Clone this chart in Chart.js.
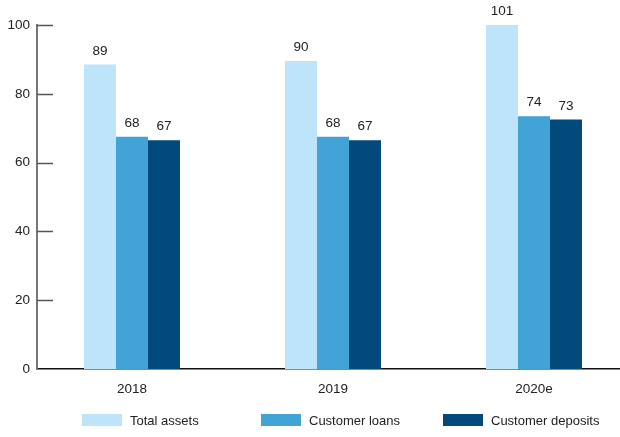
<!DOCTYPE html>
<html>
<head>
<meta charset="utf-8">
<script src="https://cdn.jsdelivr.net/npm/chart.js@4.4.1/dist/chart.umd.min.js"></script>
<style>
  html, body { margin: 0; padding: 0; background: #fff; overflow: hidden; }
  #wrap { position: relative; width: 620px; height: 437px; }
  #legend { position: absolute; left: 0; top: 412px; width: 620px; height: 16px;
            font-family: "Liberation Sans", Arial, sans-serif; font-size: 13px; color: #222; }
  .item { position: absolute; top: 0; height: 16px; display: flex; align-items: center; white-space: nowrap; }
  .box { width: 40px; height: 12px; margin-right: 8px; }
</style>
</head>
<body>
<div id="wrap">
  <canvas id="c" width="620" height="437"></canvas>
  <div id="legend"></div>
</div>
<script>
const categories = ["2018", "2019", "2020e"];
const seriesNames = ["Total assets", "Customer loans", "Customer deposits"];
const totalAssets = [88.5, 89.5, 100.5];
const customerLoans = [67.5, 67.5, 73.5];
const customerDeposits = [66.5, 66.5, 72.5];
const yTicks = [0, 20, 40, 60, 80, 100];
const colors = ["#BDE4F8", "#41A3D6", "#024A7B"];

const FONT = "'Liberation Sans', Arial, sans-serif";
const seriesValues = [totalAssets, customerLoans, customerDeposits];

const datasets = seriesValues.map((vals, i) => ({
  label: seriesNames[i],
  data: vals.map((v, k) => ({ x: k, y: v })),
  backgroundColor: colors[i],
  borderWidth: 0,
  categoryPercentage: 0.4776,
  barPercentage: 1.0
}));

const labelPlugin = {
  id: "valueLabels",
  afterDatasetsDraw(chart) {
    const ctx = chart.ctx;
    ctx.save();
    ctx.font = "13.5px " + FONT;
    ctx.fillStyle = "#222";
    ctx.textAlign = "center";
    ctx.textBaseline = "middle";
    chart.data.datasets.forEach((ds, di) => {
      const meta = chart.getDatasetMeta(di);
      meta.data.forEach((el, k) => {
        const v = ds.data[k].y;
        const top = Math.max(el.y, chart.chartArea.top);
        ctx.fillText(String(Math.round(v)), el.x, top - 13.5);
      });
    });
    ctx.restore();
  }
};

const tickMarkPlugin = {
  id: "innerTicks",
  afterDraw(chart) {
    const ctx = chart.ctx;
    const ys = chart.scales.y;
    const left = chart.chartArea.left;
    ctx.save();
    ctx.strokeStyle = "#555";
    ctx.lineWidth = 1.5;
    yTicks.forEach(t => {
      if (t === 0) return;
      const py = Math.round(ys.getPixelForValue(t)) + 0.5;
      ctx.beginPath();
      ctx.moveTo(left, py);
      ctx.lineTo(left + 16, py);
      ctx.stroke();
    });
    ctx.restore();
  }
};

new Chart(document.getElementById("c"), {
  type: "bar",
  data: { datasets },
  options: {
    responsive: false,
    animation: false,
    layout: { padding: { top: 25, bottom: 42, left: 0, right: 0 } },
    plugins: { legend: { display: false }, tooltip: { enabled: false } },
    scales: {
      x: {
        type: "linear",
        offset: false,
        bounds: "data",
        min: -0.4726,
        max: 2.4279,
        afterBuildTicks(scale) { scale.ticks = categories.map((c, i) => ({ value: i })); },
        afterFit(scale) { scale.height = 26; },
        grid: { display: false, drawTicks: false, offset: false },
        border: { display: true, color: "#111", width: 1.5 },
        ticks: {
          autoSkip: false,
          maxRotation: 0,
          padding: 12,
          color: "#222",
          font: { family: FONT, size: 13.5 },
          callback: (v) => categories[v] !== undefined ? categories[v] : ""
        }
      },
      y: {
        min: 0,
        max: 100,
        afterBuildTicks(scale) { scale.ticks = yTicks.map(v => ({ value: v })); },
        afterFit(scale) { scale.width = 37; },
        grid: { display: false, drawTicks: false },
        border: { display: true, color: "#777", width: 2 },
        ticks: {
          padding: 7,
          color: "#222",
          font: { family: FONT, size: 13.5 }
        }
      }
    }
  },
  plugins: [labelPlugin, tickMarkPlugin]
});

const legend = document.getElementById("legend");
const legendLeft = [82, 261, 443];
seriesNames.forEach((n, i) => {
  const it = document.createElement("div");
  it.className = "item";
  it.style.left = legendLeft[i] + "px";
  const b = document.createElement("span");
  b.className = "box";
  b.style.background = colors[i];
  const t = document.createElement("span");
  t.textContent = n;
  it.appendChild(b);
  it.appendChild(t);
  legend.appendChild(it);
});
</script>
</body>
</html>
